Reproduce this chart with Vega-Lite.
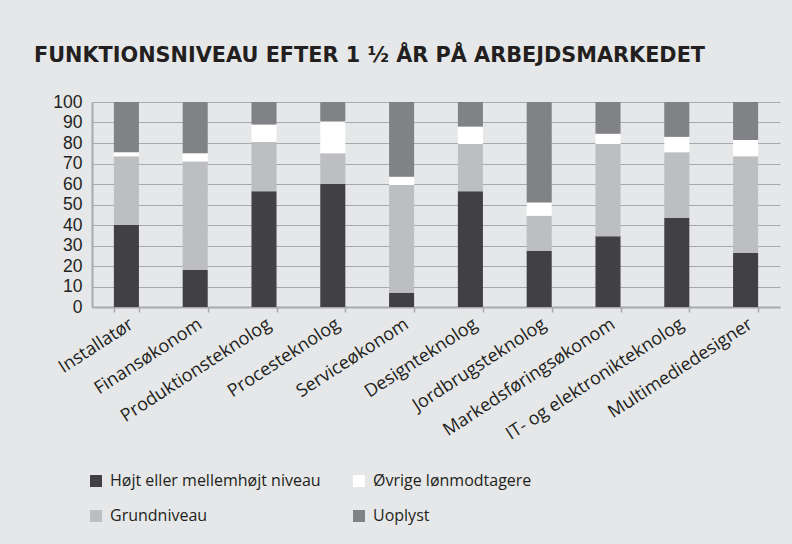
{
  "$schema": "https://vega.github.io/schema/vega-lite/v6.json",
  "autosize": {"type": "none"},
  "width": 688,
  "height": 205,
  "padding": {"left": 92, "top": 102, "right": 12, "bottom": 237},
  "background": "#e6e7e8",
  "title": {
    "text": "FUNKTIONSNIVEAU EFTER 1 ½ ÅR PÅ ARBEJDSMARKEDET",
    "anchor": "start",
    "frame": "group",
    "dx": -58,
    "offset": 26,
    "font": "DejaVu Sans",
    "fontSize": 20.8,
    "fontWeight": "bold",
    "color": "#231f20"
  },
  "data": {
    "values": [
      {"uddannelse": "Installatør", "niveau": "Højt eller mellemhøjt niveau", "rank": 1, "andel": 40},
      {"uddannelse": "Installatør", "niveau": "Grundniveau", "rank": 2, "andel": 33.5},
      {"uddannelse": "Installatør", "niveau": "Øvrige lønmodtagere", "rank": 3, "andel": 2},
      {"uddannelse": "Installatør", "niveau": "Uoplyst", "rank": 4, "andel": 24.5},
      {"uddannelse": "Finansøkonom", "niveau": "Højt eller mellemhøjt niveau", "rank": 1, "andel": 18},
      {"uddannelse": "Finansøkonom", "niveau": "Grundniveau", "rank": 2, "andel": 53},
      {"uddannelse": "Finansøkonom", "niveau": "Øvrige lønmodtagere", "rank": 3, "andel": 4},
      {"uddannelse": "Finansøkonom", "niveau": "Uoplyst", "rank": 4, "andel": 25},
      {"uddannelse": "Produktionsteknolog", "niveau": "Højt eller mellemhøjt niveau", "rank": 1, "andel": 56.5},
      {"uddannelse": "Produktionsteknolog", "niveau": "Grundniveau", "rank": 2, "andel": 24},
      {"uddannelse": "Produktionsteknolog", "niveau": "Øvrige lønmodtagere", "rank": 3, "andel": 8.5},
      {"uddannelse": "Produktionsteknolog", "niveau": "Uoplyst", "rank": 4, "andel": 11},
      {"uddannelse": "Procesteknolog", "niveau": "Højt eller mellemhøjt niveau", "rank": 1, "andel": 60},
      {"uddannelse": "Procesteknolog", "niveau": "Grundniveau", "rank": 2, "andel": 15},
      {"uddannelse": "Procesteknolog", "niveau": "Øvrige lønmodtagere", "rank": 3, "andel": 15.5},
      {"uddannelse": "Procesteknolog", "niveau": "Uoplyst", "rank": 4, "andel": 9.5},
      {"uddannelse": "Serviceøkonom", "niveau": "Højt eller mellemhøjt niveau", "rank": 1, "andel": 7},
      {"uddannelse": "Serviceøkonom", "niveau": "Grundniveau", "rank": 2, "andel": 52.5},
      {"uddannelse": "Serviceøkonom", "niveau": "Øvrige lønmodtagere", "rank": 3, "andel": 4},
      {"uddannelse": "Serviceøkonom", "niveau": "Uoplyst", "rank": 4, "andel": 36.5},
      {"uddannelse": "Designteknolog", "niveau": "Højt eller mellemhøjt niveau", "rank": 1, "andel": 56.5},
      {"uddannelse": "Designteknolog", "niveau": "Grundniveau", "rank": 2, "andel": 23},
      {"uddannelse": "Designteknolog", "niveau": "Øvrige lønmodtagere", "rank": 3, "andel": 8.5},
      {"uddannelse": "Designteknolog", "niveau": "Uoplyst", "rank": 4, "andel": 12},
      {"uddannelse": "Jordbrugsteknolog", "niveau": "Højt eller mellemhøjt niveau", "rank": 1, "andel": 27.5},
      {"uddannelse": "Jordbrugsteknolog", "niveau": "Grundniveau", "rank": 2, "andel": 17},
      {"uddannelse": "Jordbrugsteknolog", "niveau": "Øvrige lønmodtagere", "rank": 3, "andel": 6.5},
      {"uddannelse": "Jordbrugsteknolog", "niveau": "Uoplyst", "rank": 4, "andel": 49},
      {"uddannelse": "Markedsføringsøkonom", "niveau": "Højt eller mellemhøjt niveau", "rank": 1, "andel": 34.5},
      {"uddannelse": "Markedsføringsøkonom", "niveau": "Grundniveau", "rank": 2, "andel": 45},
      {"uddannelse": "Markedsføringsøkonom", "niveau": "Øvrige lønmodtagere", "rank": 3, "andel": 5},
      {"uddannelse": "Markedsføringsøkonom", "niveau": "Uoplyst", "rank": 4, "andel": 15.5},
      {"uddannelse": "IT- og elektronikteknolog", "niveau": "Højt eller mellemhøjt niveau", "rank": 1, "andel": 43.5},
      {"uddannelse": "IT- og elektronikteknolog", "niveau": "Grundniveau", "rank": 2, "andel": 32},
      {"uddannelse": "IT- og elektronikteknolog", "niveau": "Øvrige lønmodtagere", "rank": 3, "andel": 7.5},
      {"uddannelse": "IT- og elektronikteknolog", "niveau": "Uoplyst", "rank": 4, "andel": 17},
      {"uddannelse": "Multimediedesigner", "niveau": "Højt eller mellemhøjt niveau", "rank": 1, "andel": 26.5},
      {"uddannelse": "Multimediedesigner", "niveau": "Grundniveau", "rank": 2, "andel": 47},
      {"uddannelse": "Multimediedesigner", "niveau": "Øvrige lønmodtagere", "rank": 3, "andel": 8},
      {"uddannelse": "Multimediedesigner", "niveau": "Uoplyst", "rank": 4, "andel": 18.5}
    ]
  },
  "mark": {"type": "bar"},
  "encoding": {
    "x": {
      "field": "uddannelse",
      "type": "nominal",
      "sort": null,
      "scale": {"paddingInner": 0.636, "paddingOuter": 0.318},
      "axis": {
        "title": null,
        "labelAngle": -33,
        "labelFont": "Open Sans",
        "labelFontSize": 18,
        "labelColor": "#231f20",
        "labelPadding": 3,
        "labelLimit": 400,
        "labelOverlap": false,
        "tickBand": "extent",
        "ticks": true,
        "tickSize": 5,
        "tickColor": "#a7a9ac",
        "tickWidth": 1.5,
        "domainColor": "#a7a9ac",
        "domainWidth": 2,
        "grid": false
      }
    },
    "y": {
      "field": "andel",
      "type": "quantitative",
      "stack": "zero",
      "scale": {"domain": [0, 100], "nice": false},
      "axis": {
        "title": null,
        "values": [0, 10, 20, 30, 40, 50, 60, 70, 80, 90, 100],
        "labelOverlap": false,
        "ticks": false,
        "labelPadding": 10,
        "labelFont": "Liberation Sans",
        "labelFontSize": 17.5,
        "labelColor": "#231f20",
        "grid": true,
        "gridColor": "#a7a9ac",
        "gridWidth": 1.2,
        "domainColor": "#a7a9ac",
        "domainWidth": 2
      }
    },
    "color": {
      "field": "niveau",
      "type": "nominal",
      "scale": {
        "domain": ["Højt eller mellemhøjt niveau", "Grundniveau", "Øvrige lønmodtagere", "Uoplyst"],
        "range": ["#414042", "#bcbec0", "#ffffff", "#808285"]
      },
      "legend": {
        "title": null,
        "orient": "none",
        "legendX": -4,
        "legendY": 371,
        "columns": 2,
        "columnPadding": 30,
        "rowPadding": 19,
        "symbolType": "square",
        "symbolSize": 144,
        "symbolStrokeWidth": 0,
        "symbolOpacity": 1,
        "labelFont": "Open Sans",
        "labelFontSize": 16,
        "labelColor": "#231f20",
        "labelOffset": 6,
        "labelLimit": 400
      }
    },
    "order": {"field": "rank", "type": "quantitative", "sort": "ascending"}
  },
  "config": {
    "view": {"stroke": null}
  }
}
